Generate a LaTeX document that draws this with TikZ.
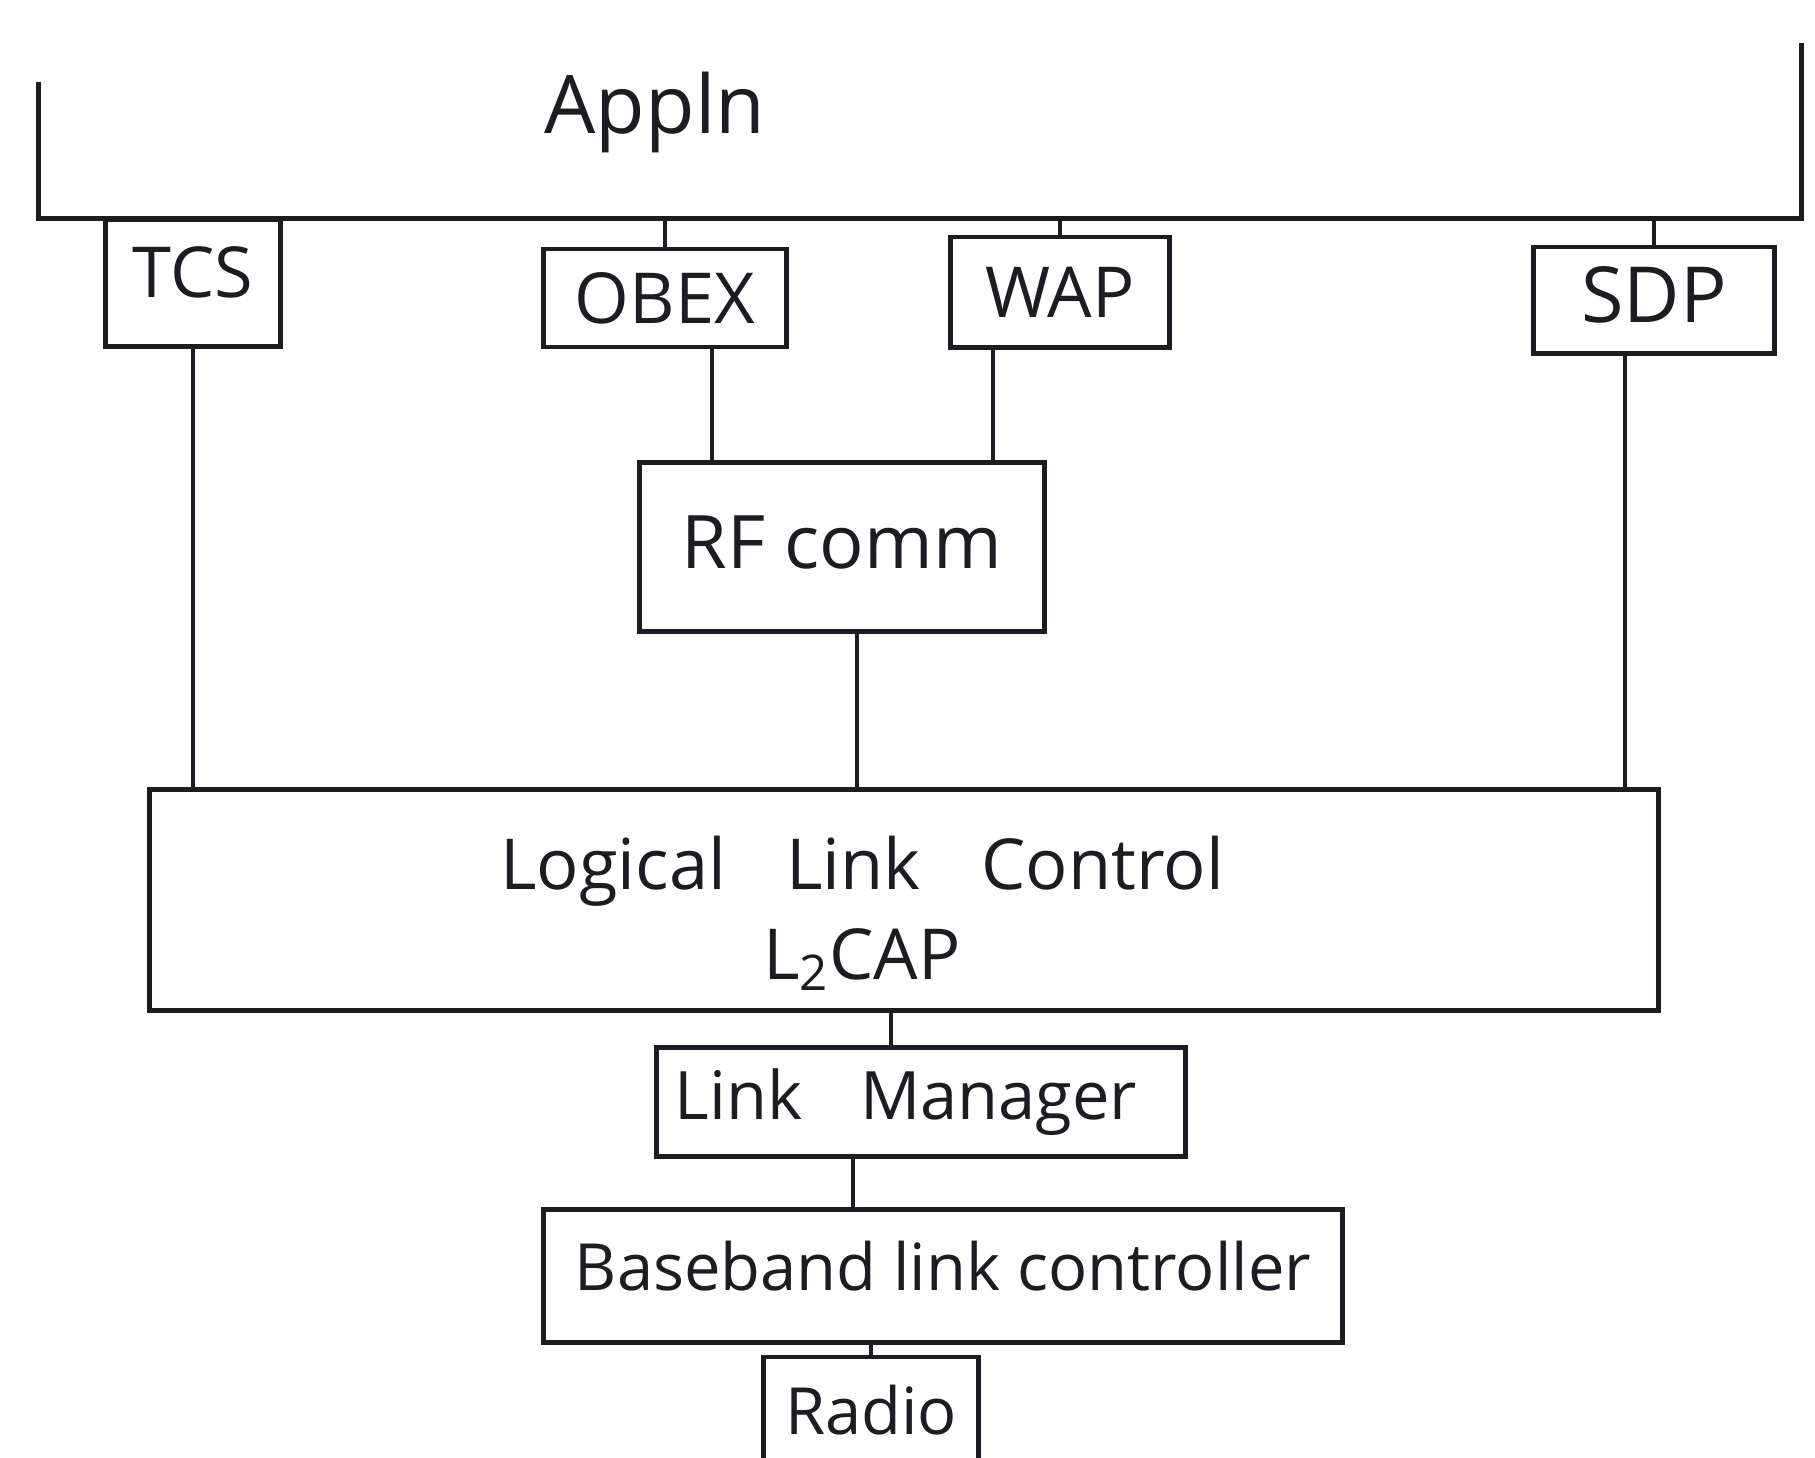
\documentclass[tikz,border=0pt]{standalone}
\usepackage{fontspec}
\setmainfont{Open Sans}
\usetikzlibrary{calc}
\definecolor{inkc}{HTML}{1C1C22}
\begin{document}
\begin{tikzpicture}[x=0.01cm,y=-0.01cm,
  layer/.style={draw=inkc, line width=1.4pt, inner sep=0pt, text=inkc,
                font=\fontsize{20}{24}\selectfont},
  tag/.style={text=inkc, inner sep=0pt},
  wire/.style={draw=inkc, line width=1.3pt}]
\useasboundingbox[fill=white] (0,0) rectangle (1815,1457);

% application layer: open-topped bracket
\node[minimum width=17.6cm, minimum height=1.74cm, inner sep=0pt] (appln) at (920,131) {};
\draw[wire, line width=1.4pt] ($(appln.south west)+(0,-137)$) -- (appln.south west)
  -- (appln.south east) -- (appln.north east);
\node[tag, font=\fontsize{23}{27}\selectfont] (applnlabel) at (655,112) {Appln};

% protocols below the application
\node[layer, minimum width=1.75cm, minimum height=1.27cm] (tcs) at (193,283) {\raisebox{2.2mm}{TCS}};
\node[layer, minimum width=2.43cm, minimum height=0.98cm] (obex) at (665,298) {OBEX};
\node[layer, minimum width=2.18cm, minimum height=1.10cm] (wap) at (1060,292) {WAP};
\node[layer, minimum width=2.41cm, minimum height=1.06cm, font=\fontsize{22}{26}\selectfont] (sdp) at (1654,300) {\raisebox{1.2mm}{SDP}};

\node[layer, minimum width=4.05cm, minimum height=1.68cm, font=\fontsize{21}{24}\selectfont] (rfcomm) at (842,547) {\raisebox{1mm}{RF comm}};

% logical link control
\node[layer, minimum width=15.08cm, minimum height=2.20cm] (llc) at (904,900) {};
\node[tag, align=center, font=\fontsize{20}{25.6}\selectfont] (llctext) at (862,913)
  {Logical\hspace{0.6em} Link\hspace{0.6em} Control\\L\textsubscript{2}CAP};

% lower layers
\node[layer, minimum width=5.29cm, minimum height=1.09cm, font=\fontsize{19}{23}\selectfont] (lm) at (921,1102) {\hspace{-3mm}Link\hspace{0.6em} Manager};
\node[layer, minimum width=7.99cm, minimum height=1.33cm, font=\fontsize{18.5}{22}\selectfont] (bb) at (943,1276) {\raisebox{2mm}{Baseband link controller}};
\node[layer, minimum width=2.14cm, minimum height=1.40cm, text depth=0pt, font=\fontsize{18.5}{22}\selectfont] (radio) at (871,1427) {\raisebox{3.4mm}{Radio}};

% connector positions
\coordinate (xob) at (712,0);
\coordinate (xwp) at (993,0);
\coordinate (xrf) at (857,0);
\coordinate (xsd) at (1625,0);
\coordinate (xll) at (891,0);
\coordinate (xlm) at (853,0);

% application to protocols
\draw[wire] (tcs.north) -- (tcs.north |- appln.south);
\draw[wire] (obex.north) -- (obex.north |- appln.south);
\draw[wire] (wap.north) -- (wap.north |- appln.south);
\draw[wire] (sdp.north) -- (sdp.north |- appln.south);

% protocols down to RF comm and L2CAP
\draw[wire] (obex.south -| xob) -- (rfcomm.north -| xob);
\draw[wire] (wap.south -| xwp) -- (rfcomm.north -| xwp);
\draw[wire] (rfcomm.south -| xrf) -- (llc.north -| xrf);
\draw[wire] (tcs.south) -- (tcs.south |- llc.north);
\draw[wire] (sdp.south -| xsd) -- (llc.north -| xsd);

% down the stack
\draw[wire] (llc.south -| xll) -- (lm.north -| xll);
\draw[wire] (lm.south -| xlm) -- (bb.north -| xlm);
\draw[wire] (bb.south -| radio.north) -- (radio.north);
\end{tikzpicture}
\end{document}
